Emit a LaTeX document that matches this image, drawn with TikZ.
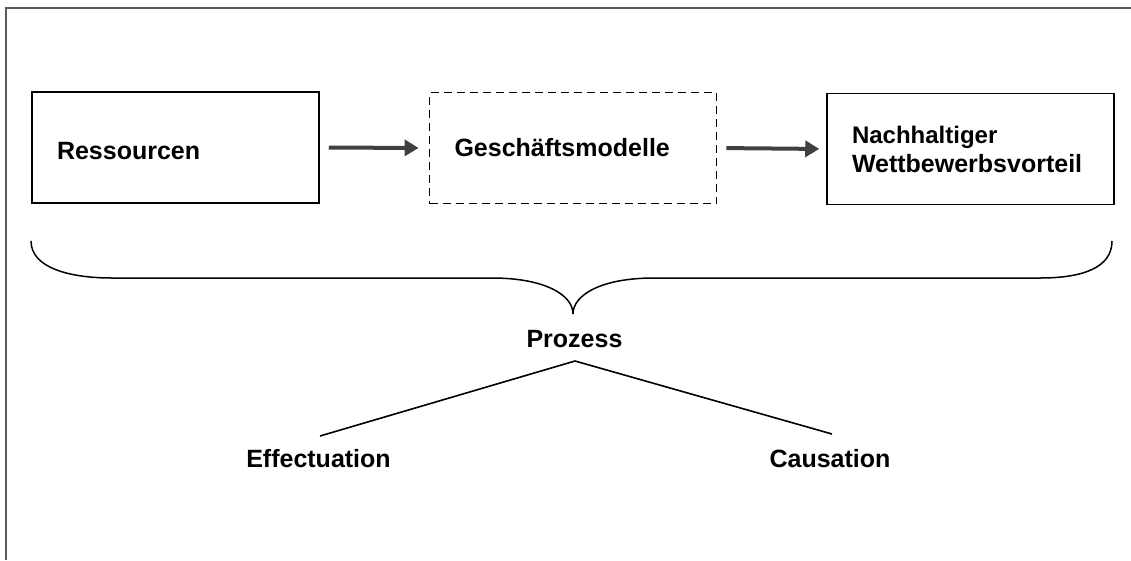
\documentclass[tikz,border=0pt]{standalone}
\usepackage{fontspec}
\setmainfont{Liberation Sans}
\usetikzlibrary{arrows.meta}
\definecolor{arrowgray}{HTML}{404040}
\definecolor{framegray}{HTML}{5A5A5A}
\tikzset{
  box/.style={draw=black, line width=1.5pt, minimum width=287pt, minimum height=111pt,
    inner xsep=25pt, text width=237pt, align=left, font=\bfseries\fontsize{25}{29}\selectfont},
  dashbox/.style={box, line width=1.8pt, dash pattern=on 8pt off 5pt},
  flow/.style={draw=arrowgray, line width=4pt, -{Triangle[length=14pt,width=16pt]}},
  lbl/.style={font=\bfseries\fontsize{25}{29}\selectfont, inner sep=0pt, anchor=base},
  thin/.style={draw=black, line width=1.6pt},
  frame/.style={draw=framegray, line width=2pt}
}
\begin{document}
\begin{tikzpicture}[x=1pt,y=-1pt]
\useasboundingbox (0,0) rectangle (1131,560);
% frame (top and left edges)
\coordinate (f1) at (1131,8);
\coordinate (f2) at (5.5,8);
\coordinate (f3) at (5.5,560);
\draw[frame] (f1) -- (f2) -- (f3);
% boxes
\node[box] (res) at (175.5,147.5) {\raisebox{-3pt}[\height][0pt]{Ressourcen}};
\node[dashbox] (gm) at (573,148) {Geschäftsmodelle};
\node[box] (nw) at (970.5,149) {{\fontsize{24}{29}\selectfont Nachhaltiger}\\Wettbewerbsvorteil};
% arrows
\draw[flow, shorten <=9pt, shorten >=10pt] (res.east) -- (gm.west);
\draw[flow, shorten <=9pt, shorten >=7pt] (gm.east) -- (nw.west);
% brace
\coordinate (bl) at (31,241);
\coordinate (br) at (1112,241);
\coordinate (tip) at (573,314);
\draw[thin, line width=1.5pt] (bl) .. controls (31,268) and (70,278) .. (112,278) -- (492,278)
  .. controls (545,278) and (573,295) .. (tip)
  .. controls (573,295) and (601,278) .. (654,278) -- (1040,278)
  .. controls (1082,278) and (1112,268) .. (br);
% labels
\node[lbl] (proz) at (574.5,347) {Prozess};
\node[lbl] (eff) at (318.5,467) {Effectuation};
\node[lbl] (cau) at (830,467) {Causation};
% tree lines
\coordinate (peak) at (575,361);
\coordinate (effend) at (320,436);
\coordinate (cauend) at (832,434);
\draw[thin] (effend) -- (peak) -- (cauend);
\end{tikzpicture}
\end{document}
